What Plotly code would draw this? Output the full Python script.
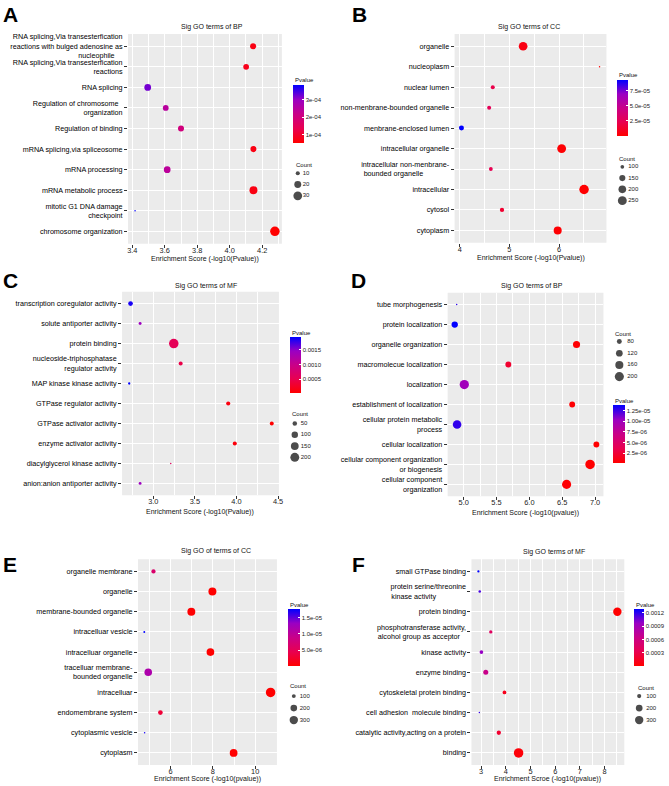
import numpy as np
import plotly.graph_objects as go

W, H = 669, 786
FONT = "Liberation Sans, Arial, sans-serif"
NB = "\u00a0"  # pads short lines so two-line labels read left-aligned, as in the source

# ---------------- A: Sig GO terms of BP ----------------
terms_a = ["RNA splicing,Via transesterfication<br>reactions with bulged adenosine as<br>nucleophile" + NB * 4,
           "RNA splicing,Via transesterfication<br>reactions",
           "RNA splicing",
           "Regulation of chromosome" + NB * 2 + "<br>organization",
           "Regulation of binding",
           "mRNA splicing,via spliceosome",
           "mRNA processing",
           "mRNA metabolic process",
           "mitotic G1 DNA damage<br>checkpoint",
           "chromosome organization"]
score_a = [4.144, 4.101, 3.495, 3.606, 3.700, 4.146, 3.615, 4.146, 3.417, 4.278]
count_a = [16, 15, 19, 15, 16, 16, 19, 25, 7, 35]
breaks_a = [10, 20, 30]
pticks_a = [1e-4, 2e-4, 3e-4]
plabels_a = ["1e-04", "2e-04", "3e-04"]

# ---------------- B: Sig GO terms of CC ----------------
terms_b = ["organelle", "nucleoplasm", "nuclear lumen", "non-menbrane-bounded organelle",
           "menbrane-enclosed lumen", "intracellular organelle",
           "intracellular non-menbrane-<br>bounded organelle" + NB * 13, "intracellular", "cytosol", "cytoplasm"]
score_b = [5.276, 6.817, 4.664, 4.591, 4.033, 6.053, 4.625, 6.505, 4.850, 5.973]
count_b = [243, 85, 104, 104, 122, 250, 101, 280, 109, 214]
breaks_b = [100, 150, 200, 250]
pticks_b = [2.5e-5, 5e-5, 7.5e-5]
plabels_b = ["2.5e-05", "5.0e-05", "7.5e-05"]

# ---------------- C: Sig GO terms of MF ----------------
terms_c = ["transcription coregulator activity", "solute antiporter activity", "protein binding",
           "nucleoside-triphosphatase<br>regulator activity", "MAP kinase kinase activity",
           "GTPase regulator activity", "GTPase activator activity", "enzyme activator activity",
           "diacylglycerol kinase activity", "anion:anion antiporter activity"]
score_c = [2.726, 2.841, 3.246, 3.329, 2.710, 3.901, 4.425, 3.980, 3.210, 2.841]
count_c = [54, 27, 230, 41, 22, 43, 40, 42, 20, 26]
breaks_c = [50, 100, 150, 200]
pticks_c = [0.0005, 0.0010, 0.0015]
plabels_c = ["0.0005", "0.0010", "0.0015"]

# ---------------- D: Sig GO terms of BP ----------------
terms_d = ["tube morphogenesis", "protein localization", "organelle organization",
           "macromolecue localization", "localization", "establishment of localization",
           "cellular protein metabolic<br>process", "cellular localization",
           "cellular component organization<br>or biogenesis", "cellular component<br>organization"]
score_d = [4.894, 4.864, 6.718, 5.680, 5.010, 6.652, 4.900, 7.020, 6.924, 6.567]
count_d = [50, 110, 130, 100, 205, 100, 180, 100, 215, 200]
breaks_d = [80, 120, 160, 200]
pticks_d = [2.5e-6, 5e-6, 7.5e-6, 1e-5, 1.25e-5]
plabels_d = ["2.5e-06", "5.0e-06", "7.5e-06", "1.00e-05", "1.25e-05"]

# ---------------- E: Sig GO of terms of CC ----------------
terms_e = ["organelle membrane", "organelle", "membrane-bounded organelle", "intracelluar vesicle",
           "intracelluar organelle", "tracelluar membrane-<br>bounded organelle", "intracelluar",
           "endomembrane system", "cytoplasmic vesicle", "cytoplasm"]
score_e = [5.190, 7.977, 6.980, 4.755, 7.883, 4.942, 10.730, 5.517, 4.770, 8.980]
count_e = [108, 275, 270, 73, 256, 250, 380, 120, 72, 260]
breaks_e = [100, 200, 300]
pticks_e = [5e-6, 1e-5, 1.5e-5]
plabels_e = ["5.0e-06", "1.0e-05", "1.5e-05"]

# ---------------- F: Sig GO terms of MF ----------------
terms_f = ["small GTPase binding", "protein serine/threonine<br>kinase activity" + NB * 15, "protein binding",
           "phosphotransferase activity,<br>alcohol group as acceptor" + NB * 3, "kinase activity",
           "enzyme binding", "cytoskeletal protein binding", "cell adhesion  molecule binding",
           "catalytic activity,acting on a protein", "binding"]
score_f = [2.892, 2.946, 8.515, 3.393, 3.014, 3.190, 3.948, 2.932, 3.718, 4.518]
count_f = [68, 70, 300, 81, 89, 125, 90, 65, 104, 380]
breaks_f = [100, 200, 300]
pticks_f = [0.0003, 0.0006, 0.0009, 0.0012]
plabels_f = ["0.0003", "0.0006", "0.0009", "0.0012"]

# ggplot red -> blue gradient (Lab interpolation)
RED_BLUE = [[0, "#FF0000"], [0.25, "#E80050"], [0.5, "#C90088"], [0.75, "#9A00C3"], [1, "#0000FF"]]

panels = [
    dict(terms=terms_a, score=score_a, count=count_a, breaks=breaks_a, pt=pticks_a, pl=plabels_a,
         letter="A", title="Sig GO terms of BP", xtitle="Enrichment Score (-log10(Pvalue))"),
    dict(terms=terms_b, score=score_b, count=count_b, breaks=breaks_b, pt=pticks_b, pl=plabels_b,
         letter="B", title="Sig GO terms of CC", xtitle="Enrichment Score (-log10(Pvalue))"),
    dict(terms=terms_c, score=score_c, count=count_c, breaks=breaks_c, pt=pticks_c, pl=plabels_c,
         letter="C", title="Sig GO terms of MF", xtitle="Enrichment Score (-log10(Pvalue))"),
    dict(terms=terms_d, score=score_d, count=count_d, breaks=breaks_d, pt=pticks_d, pl=plabels_d,
         letter="D", title="Sig GO terms of BP", xtitle="Enrichment Score (-log10(pvalue))"),
    dict(terms=terms_e, score=score_e, count=count_e, breaks=breaks_e, pt=pticks_e, pl=plabels_e,
         letter="E", title="Sig GO of terms of CC", xtitle="Enrichment Score (-log10(pvalue))"),
    dict(terms=terms_f, score=score_f, count=count_f, breaks=breaks_f, pt=pticks_f, pl=plabels_f,
         letter="F", title="Sig GO terms of MF", xtitle="Enrichment Scroe (-log10(pvalue))"),
]

# pixel geometry: panel box, tick step, letter (left, top), title, x-title y,
# colorbar (left, title y, bar top, bar bottom, width), count legend
geoms = [
    dict(x0=128, x1=283, y0=33, y1=243, dtick=0.2, fmt=".1f", let=(0, 0), tt=(213, 26), xt=258,
         cb=(294, 79, 84, 142, 11), lg=(295, 164, 299, 172.5, 11.3, 304)),
    dict(x0=457, x1=610, y0=33, y1=242, dtick=1, fmt="d", let=(352, 0), tt=(532, 26), xt=257,
         cb=(621, 74, 79, 135, 11), lg=(621, 158, 626, 166, 11.3, 632)),
    dict(x0=122, x1=280, y0=291, y1=495, dtick=0.5, fmt=".1f", let=(0, 266), tt=(207, 285), xt=512,
         cb=(291, 332, 336, 392, 11), lg=(291, 414, 296, 423, 11.3, 302)),
    dict(x0=450, x1=607, y0=292, y1=496, dtick=0.5, fmt=".1f", let=(351, 266), tt=(535, 285), xt=513,
         cb=(617, 401, 405, 463, 12), lg=(617, 333, 623, 341, 11.7, 631)),
    dict(x0=138, x1=278, y0=559, y1=765, dtick=2, fmt="d", let=(0, 551), tt=(217, 551), xt=779,
         cb=(289, 605, 609, 666, 12), lg=(289, 686, 295, 696, 12, 301)),
    dict(x0=474, x1=628, y0=559, y1=765, dtick=1, fmt="d", let=(352, 551), tt=(557, 552), xt=779,
         cb=(638, 605, 609, 666, 10), lg=(640, 688, 643, 696, 12, 650)),
]


def fx(px):
    return min(max(px / W, 0), 1)


def fy(px):
    return min(max(1 - px / H, 0), 1)


def dot_size(c, lo, hi, dmin=1.5, dmax=9.5):
    # ggplot scale_size: area-like mapping over the data limits
    t = np.clip((np.asarray(c, float) - lo) / (hi - lo), 0, 1)
    return dmin + np.sqrt(t) * (dmax - dmin)


def note(text, x, y, size=6, anchor="left", bold=False, yanchor="middle"):
    return dict(text="<b>%s</b>" % text if bold else text, x=fx(x), y=fy(y),
                xref="paper", yref="paper", xanchor=anchor, yanchor=yanchor, showarrow=False,
                font=dict(size=size, color="black" if bold else "#111", family=FONT))


fig = go.Figure()
annotations = []
shapes = []
layout = {}

for i, (p, g) in enumerate(zip(panels, geoms), start=1):
    sfx = "" if i == 1 else str(i)
    score = np.array(p["score"])
    pvalue = 10 ** (-score)  # Enrichment Score = -log10(Pvalue)
    lo, hi = min(p["count"]), max(p["count"])
    pad = (score.max() - score.min()) * 0.05
    n = len(p["terms"])

    fig.add_trace(go.Scatter(
        x=score, y=p["terms"], mode="markers", xaxis="x" + sfx, yaxis="y" + sfx,
        marker=dict(size=dot_size(p["count"], lo, hi), color=pvalue, coloraxis="coloraxis" + sfx,
                    line=dict(width=0), opacity=1),
        showlegend=False, hoverinfo="skip"))

    cbx, cbty, cbt, cbb, cbw = g["cb"]
    layout["coloraxis" + sfx] = dict(
        colorscale=RED_BLUE, cmin=pvalue.min(), cmax=pvalue.max(),
        colorbar=dict(x=fx(cbx), xanchor="left", xpad=0, y=fy(cbt), yanchor="top", ypad=0,
                      len=cbb - cbt, lenmode="pixels", thickness=cbw, thicknessmode="pixels",
                      outlinewidth=0, tickvals=p["pt"], ticktext=p["pl"], ticks="inside",
                      ticklen=2, tickcolor="white", tickfont=dict(size=6, color="#222", family=FONT)))
    annotations.append(note("Pvalue", cbx, cbty))

    layout["xaxis" + sfx] = dict(
        domain=[fx(g["x0"]), fx(g["x1"])], anchor="y" + sfx,
        range=[score.min() - pad, score.max() + pad], tick0=0, dtick=g["dtick"],
        tickformat=g["fmt"], ticks="outside", ticklen=3, tickwidth=0.8, tickcolor="#333",
        ticklabelstandoff=-4,
        showgrid=True, gridcolor="white", gridwidth=0.9, zeroline=False, showline=False,
        minor=dict(tick0=0, dtick=g["dtick"] / 2, showgrid=True, gridcolor="white", gridwidth=0.4),
        tickfont=dict(size=7.4, color="#1a1a1a", family=FONT))
    layout["yaxis" + sfx] = dict(
        domain=[fy(g["y1"]), fy(g["y0"])], anchor="x" + sfx, type="category",
        categoryorder="array", categoryarray=p["terms"], range=[n - 0.4, -0.6],
        ticks="outside", ticklen=3, tickwidth=0.8, tickcolor="#333",
        showgrid=True, gridcolor="white", gridwidth=0.9, zeroline=False, showline=False,
        tickfont=dict(size=7.2, color="#000", family=FONT))

    shapes.append(dict(type="rect", xref="x%s domain" % sfx, yref="y%s domain" % sfx,
                       x0=0, x1=1, y0=0, y1=1, fillcolor="#EBEBEB", line=dict(width=0), layer="below"))

    # count legend drawn on a hidden axis pair
    j = i + 6
    tx, ty, kx, ky, step, lx = g["lg"]
    nb = len(p["breaks"])
    layout["xaxis%d" % j] = dict(domain=[fx(kx - 8), fx(kx + 24)], range=[-8, 24], anchor="y%d" % j,
                                 visible=False, fixedrange=True)
    layout["yaxis%d" % j] = dict(domain=[fy(ky + (nb - 0.5) * step), fy(ky - step / 2)],
                                 range=[nb - 0.5, -0.5], anchor="x%d" % j, visible=False, fixedrange=True)
    fig.add_trace(go.Scatter(
        x=[0] * nb, y=list(range(nb)), mode="markers", xaxis="x%d" % j, yaxis="y%d" % j,
        marker=dict(size=dot_size(p["breaks"], lo, hi), color="black", line=dict(width=0)),
        showlegend=False, hoverinfo="skip"))
    fig.add_trace(go.Scatter(
        x=[lx - kx] * nb, y=list(range(nb)), mode="text", xaxis="x%d" % j, yaxis="y%d" % j,
        text=[str(b) for b in p["breaks"]], textposition="middle right",
        textfont=dict(size=6, color="#222", family=FONT), showlegend=False, hoverinfo="skip",
        cliponaxis=False))
    annotations.append(note("Count", tx, ty))

    # panel letter, title, x title
    annotations.append(note(p["letter"], g["let"][0], g["let"][1], size=21, bold=True, yanchor="top"))
    annotations.append(note(p["title"], g["tt"][0], g["tt"][1], size=7, anchor="center"))
    annotations.append(note(p["xtitle"], (g["x0"] + g["x1"]) / 2, g["xt"], size=7, anchor="center"))

fig.update_layout(
    width=W, height=H, margin=dict(l=0, r=0, t=0, b=0),
    paper_bgcolor="white", plot_bgcolor="rgba(0,0,0,0)",
    font=dict(family=FONT, color="black"),
    annotations=annotations, shapes=shapes, **layout)

# drop the browser's default 8px body margin so the figure fills the window
fig.write_html("out.html", config={"displayModeBar": False},
               post_script="document.body.style.margin='0';document.body.style.overflow='hidden';")
